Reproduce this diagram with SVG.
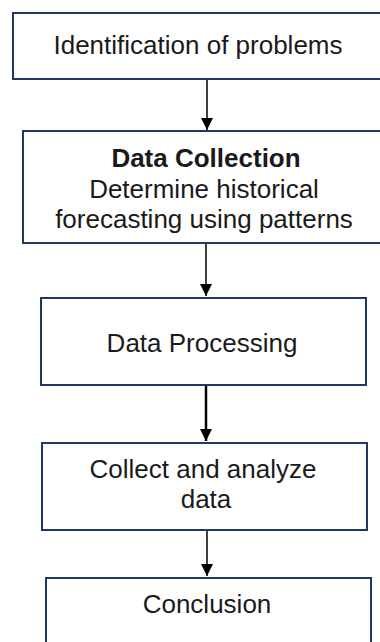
<svg xmlns="http://www.w3.org/2000/svg" width="380" height="642" viewBox="0 0 380 642">
  <style>
    .box { fill: #ffffff; stroke: #1f3864; stroke-width: 2; }
    .lbl { font-family: "Liberation Sans", Arial, sans-serif; font-size: 26px; fill: #1a1a1a; text-anchor: middle; }
    .bold { font-weight: bold; }
    .conn { stroke: #000000; stroke-width: 1.5; fill: none; }
    .conn.thick { stroke-width: 2.5; }
  </style>
  <defs>
    <marker id="arrow" viewBox="0 0 10 10" refX="10" refY="5" markerWidth="10" markerHeight="10" markerUnits="userSpaceOnUse" orient="auto">
      <path d="M0,0 L10,5 L0,10 z" fill="#000000"/>
    </marker>
    <marker id="arrowBig" viewBox="0 0 10 10" refX="10" refY="5" markerWidth="12" markerHeight="12" markerUnits="userSpaceOnUse" orient="auto">
      <path d="M0,0 L10,5 L0,10 z" fill="#000000"/>
    </marker>
  </defs>

  <g id="connectors">
    <line class="conn" x1="207" y1="80" x2="207" y2="130" marker-end="url(#arrowBig)"/>
    <line class="conn" x1="206" y1="244" x2="206" y2="296" marker-end="url(#arrowBig)"/>
    <line class="conn thick" x1="206" y1="385" x2="206" y2="441" marker-end="url(#arrowBig)"/>
    <line class="conn" x1="207" y1="530" x2="207" y2="576" marker-end="url(#arrowBig)"/>
  </g>

  <g id="node1">
    <rect class="box" x="13" y="13" width="372" height="66"/>
    <text class="lbl" x="198" y="54">Identification of problems</text>
  </g>

  <g id="node2">
    <rect class="box" x="23" y="131" width="365" height="112"/>
    <text class="lbl bold" x="206" y="167">Data Collection</text>
    <text class="lbl" x="204" y="198">Determine historical</text>
    <text class="lbl" x="204" y="228">forecasting using patterns</text>
  </g>

  <g id="node3">
    <rect class="box" x="41" y="298" width="325" height="87"/>
    <text class="lbl" x="202" y="352">Data Processing</text>
  </g>

  <g id="node4">
    <rect class="box" x="42" y="443" width="325" height="87"/>
    <text class="lbl" x="203" y="478">Collect and analyze</text>
    <text class="lbl" x="206" y="508">data</text>
  </g>

  <g id="node5">
    <rect class="box" x="46" y="578" width="325" height="80"/>
    <text class="lbl" x="207" y="613">Conclusion</text>
  </g>
</svg>
